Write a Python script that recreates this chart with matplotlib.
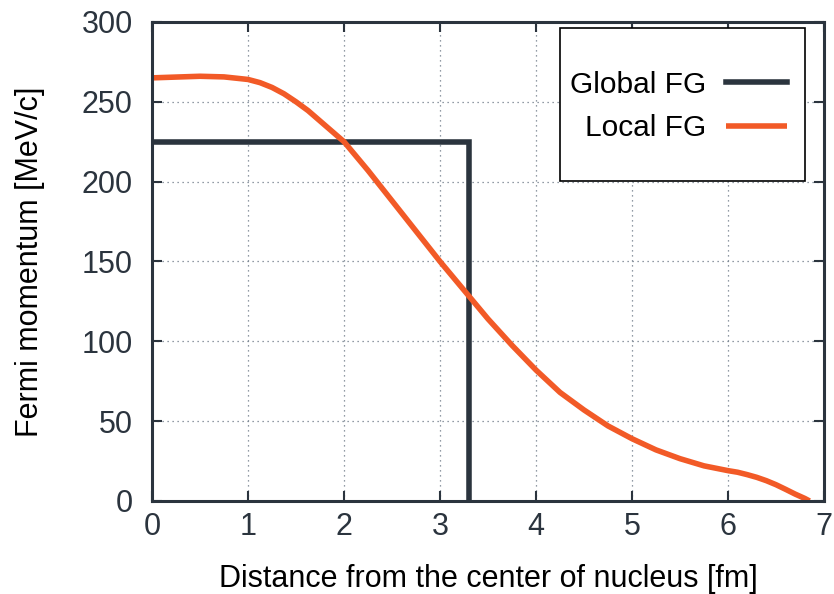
import matplotlib
matplotlib.use("Agg")
import matplotlib.pyplot as plt
from matplotlib.patches import Rectangle

plt.rcParams['font.family'] = ['Liberation Sans', 'DejaVu Sans']

# Local Fermi gas curve
r_local = [0, 0.25, 0.5, 0.75, 1.0, 1.125, 1.25, 1.375, 1.5, 1.625, 1.75, 1.875, 2.0,
           2.25, 2.5, 2.75, 3.0, 3.25, 3.5, 3.75, 4.0, 4.25, 4.5, 4.75, 5.0,
           5.25, 5.5, 5.75, 6.0, 6.1, 6.2, 6.3, 6.4, 6.5, 6.6, 6.7, 6.8, 6.85]
k_local = [265, 265.5, 266, 265.6, 264, 262, 259, 255, 250, 244.5, 238, 231.5, 225,
           207, 188, 169, 150, 132, 114, 97.5, 82, 68, 57, 47, 39,
           32, 26.5, 22, 19, 18, 16.5, 14.8, 12.7, 10.2, 7.3, 4.3, 1.6, 0]

# Global Fermi gas step
r_global = [0, 3.3, 3.3]
k_global = [225, 225, 0]

xticks = [0, 1, 2, 3, 4, 5, 6, 7]
yticks = [0, 50, 100, 150, 200, 250, 300]

axis_col = '#2b343e'
orange = '#f25a27'

fig = plt.figure(figsize=(8.34, 5.94), dpi=100)
ax = fig.add_axes([0.1823, 0.1566, 0.8057, 0.8064])

ax.plot(r_global, k_global, color=axis_col, lw=4.0, label='Global FG', solid_joinstyle='miter')
ax.plot(r_local, k_local, color=orange, lw=4.0, label='Local FG',
        solid_capstyle='butt', solid_joinstyle='round')

ax.set_xlim(0, 7)
ax.set_ylim(0, 300)
ax.set_xticks(xticks)
ax.set_yticks(yticks)
ax.grid(True, linestyle=(0, (1, 3)), color='#6e7b88', lw=0.9)
ax.tick_params(direction='in', length=7, width=1.5, colors=axis_col,
               top=True, right=True, labelsize=22)
ax.tick_params(axis='y', pad=14)
ax.tick_params(axis='x', pad=8)
for s in ax.spines.values():
    s.set_color(axis_col)
    s.set_linewidth(2.2)

ax.set_xlabel('Distance from the center of nucleus [fm]', fontsize=22, labelpad=16, color='black')
ax.set_ylabel('Fermi momentum [MeV/c]', fontsize=22, labelpad=26, color='black')

# legend frame
ax.add_patch(Rectangle((0.607, 0.668), 0.365, 0.3195, transform=ax.transAxes,
                       facecolor='white', edgecolor='black', lw=1.2, zorder=5))
leg = ax.legend(loc='upper right', bbox_to_anchor=(0.945, 0.898), markerfirst=False,
                fontsize=21.5, frameon=False, handlelength=2.05, borderpad=0,
                labelspacing=0.52, handletextpad=0.67, borderaxespad=0)
leg.set_zorder(6)

fig.savefig('out.png', dpi=100)
